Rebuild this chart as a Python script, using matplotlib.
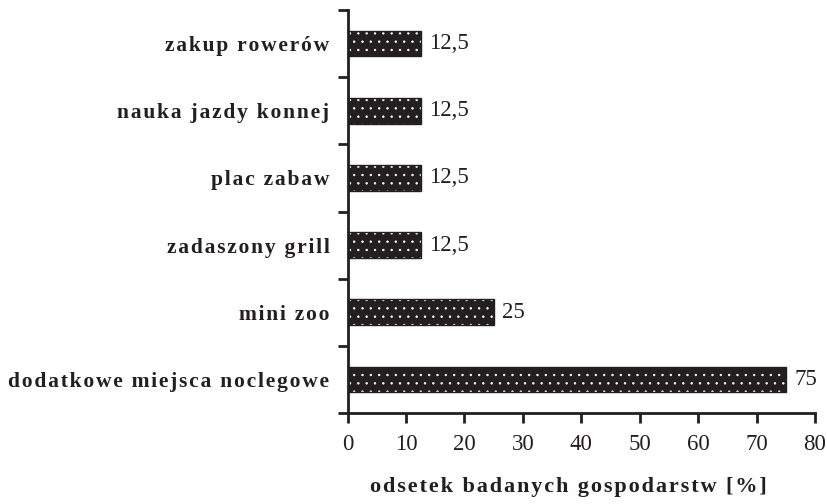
import matplotlib
matplotlib.use("Agg")
import matplotlib.pyplot as plt
import numpy as np

categories = ["dodatkowe miejsca noclegowe", "mini zoo", "zadaszony grill",
              "plac zabaw", "nauka jazdy konnej", "zakup rowerów"]
values = [75, 25, 12.5, 12.5, 12.5, 12.5]
value_labels = ["75", "25", "12,5", "12,5", "12,5", "12,5"]
xticks = [0, 10, 20, 30, 40, 50, 60, 70, 80]
xlabel = "odsetek badanych gospodarstw [%]"

def spaced(s, sp="\u200a"):
    return sp.join(list(s))

plt.rcParams['font.family'] = ['Liberation Serif', 'DejaVu Serif']
plt.rcParams['hatch.linewidth'] = 0.5

fig = plt.figure(figsize=(8.28, 5.04), dpi=100)
ax = fig.add_axes([0.4197, 0.1806, 0.9843 - 0.4197, 0.980 - 0.1806])

y = np.arange(len(categories))
dark = "#231f20"
ax.barh(y, values, height=0.38, color=dark, edgecolor="white", hatch="..", linewidth=0)
ax.barh(y, values, height=0.38, fill=False, edgecolor=dark, linewidth=1.0)

for yi, v, lab in zip(y, values, value_labels):
    ax.text(v + 1.5, yi, lab, va="center", ha="left", fontsize=16.5, color=dark)

ax.set_xlim(0, 80)
ax.set_ylim(-0.5, len(categories) - 0.5)
ax.set_xticks(xticks)
ax.set_xticklabels([str(t) for t in xticks], fontsize=16.5, color=dark)
ax.set_yticks(y)
ax.set_yticklabels([spaced(c) for c in categories], fontsize=15.5, fontweight="bold", color=dark)
ax.set_yticks(np.arange(-0.5, len(categories)), minor=True)
ax.tick_params(axis="y", which="major", length=0, pad=13)
ax.tick_params(axis="y", which="minor", length=7, width=2, direction="out", color=dark)
ax.tick_params(axis="x", length=7, width=2, direction="out", color=dark, pad=8)

for s in ["top", "right"]:
    ax.spines[s].set_visible(False)
for s in ["left", "bottom"]:
    ax.spines[s].set_linewidth(2)
    ax.spines[s].set_color(dark)

ax.set_xlabel(spaced(xlabel), fontsize=16, fontweight="bold", color=dark, labelpad=16)
ax.xaxis.label.set_x(0.472)

fig.savefig("out.png", dpi=100)
